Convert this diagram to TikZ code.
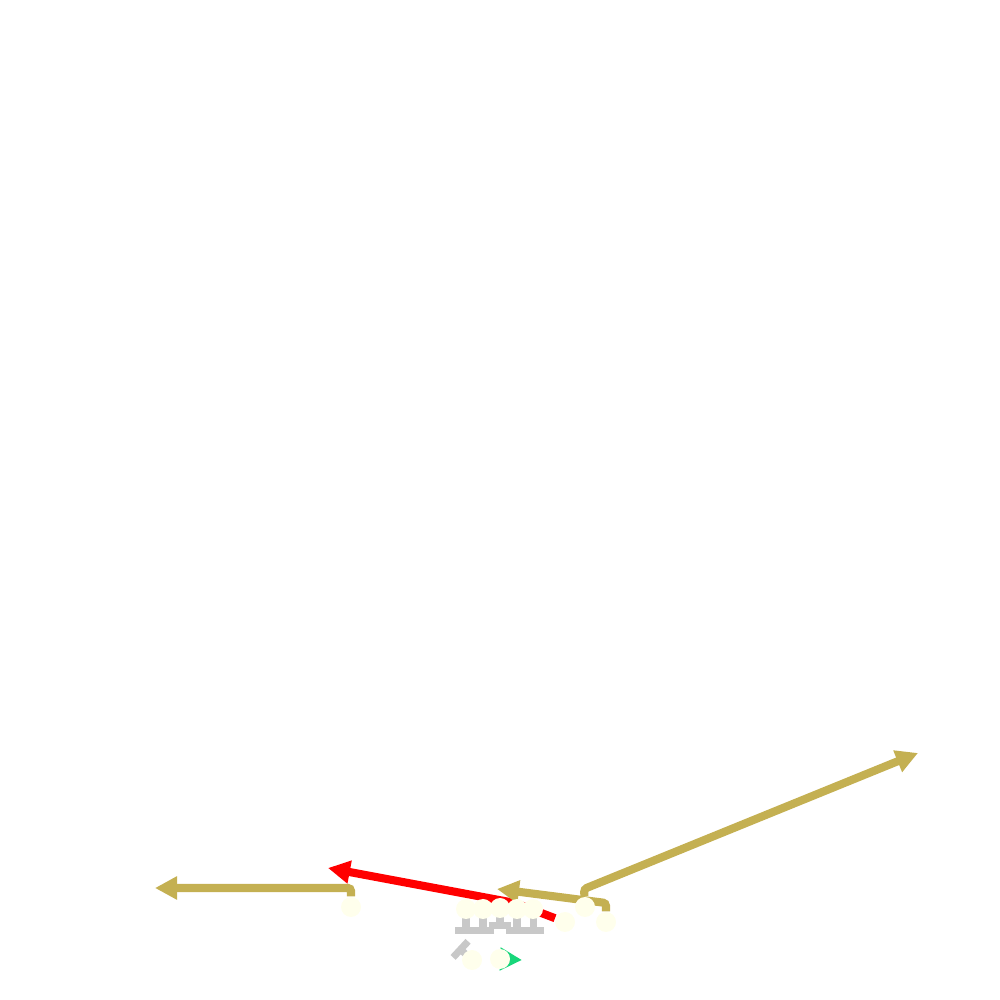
\documentclass[tikz,border=0pt]{standalone}
\usetikzlibrary{arrows.meta,backgrounds}
\definecolor{routegold}{RGB}{196,176,82}
\definecolor{blockgray}{RGB}{200,200,200}
\definecolor{playerfill}{RGB}{255,255,236}
\definecolor{motiongreen}{RGB}{24,214,122}
\definecolor{redroute}{RGB}{255,0,0}

\tikzset{
  player/.style={circle, fill=playerfill, minimum size=2mm, inner sep=0pt},
  route/.style={line width=2.3pt, rounded corners=0.3mm, -{Triangle[length=2.2mm, width=2.2mm]}},
  blockline/.style={blockgray, line width=2pt, -{Bar[width=2.2mm]}}
}

\begin{document}
\begin{tikzpicture}
\useasboundingbox (0,0) rectangle (10,10);
% Players
\node[player] (wl) at (3.51,0.93) {};
\node[player] (ol1) at (4.66,0.91) {};
\node[player] (ol2) at (4.83,0.91) {};
\node[player] (ol3) at (5.00,0.92) {};
\node[player] (ol4) at (5.17,0.91) {};
\node[player] (ol5) at (5.33,0.91) {};
\node[player] (rd) at (5.65,0.78) {};
\node[player] (wr) at (5.85,0.93) {};
\node[player] (te) at (6.06,0.78) {};
\node[player] (rb) at (4.72,0.40) {};
\node[player] (qb) at (5.00,0.41) {};
% Route ends
\coordinate (wlend) at (1.55,1.12);
\coordinate (rdend) at (3.28,1.32);
\coordinate (wrend) at (9.18,2.47);
\coordinate (teend) at (4.97,1.11);
\coordinate (qbend) at (5.22,0.40);
\coordinate (rbend) at (4.58,0.53);
\begin{scope}[on background layer]
% Routes
\draw[route, routegold] (wl) -- (3.51,1.12) -- (wlend);
\draw[route, redroute] (rd) -- (5.15,0.97) -- (rdend);
\draw[route, routegold] (wr) -- (5.84,1.11) -- (wrend);
\draw[route, routegold] (te) -- (6.06,0.97) -- (teend);
% Blocks
\foreach \p/\y in {ol1/0.655, ol2/0.655, ol3/0.705, ol4/0.655, ol5/0.655} {
  \draw[blockline] (\p.center) -- (\p.center |- 0,\y);
}
\draw[blockline] (rb.center) -- (rbend);
% Motion
\draw[motiongreen, line width=1.5pt, -{Triangle[length=2.2mm, width=2.2mm]}] (qb.center) -- (qbend);
\end{scope}
\end{tikzpicture}
\end{document}
